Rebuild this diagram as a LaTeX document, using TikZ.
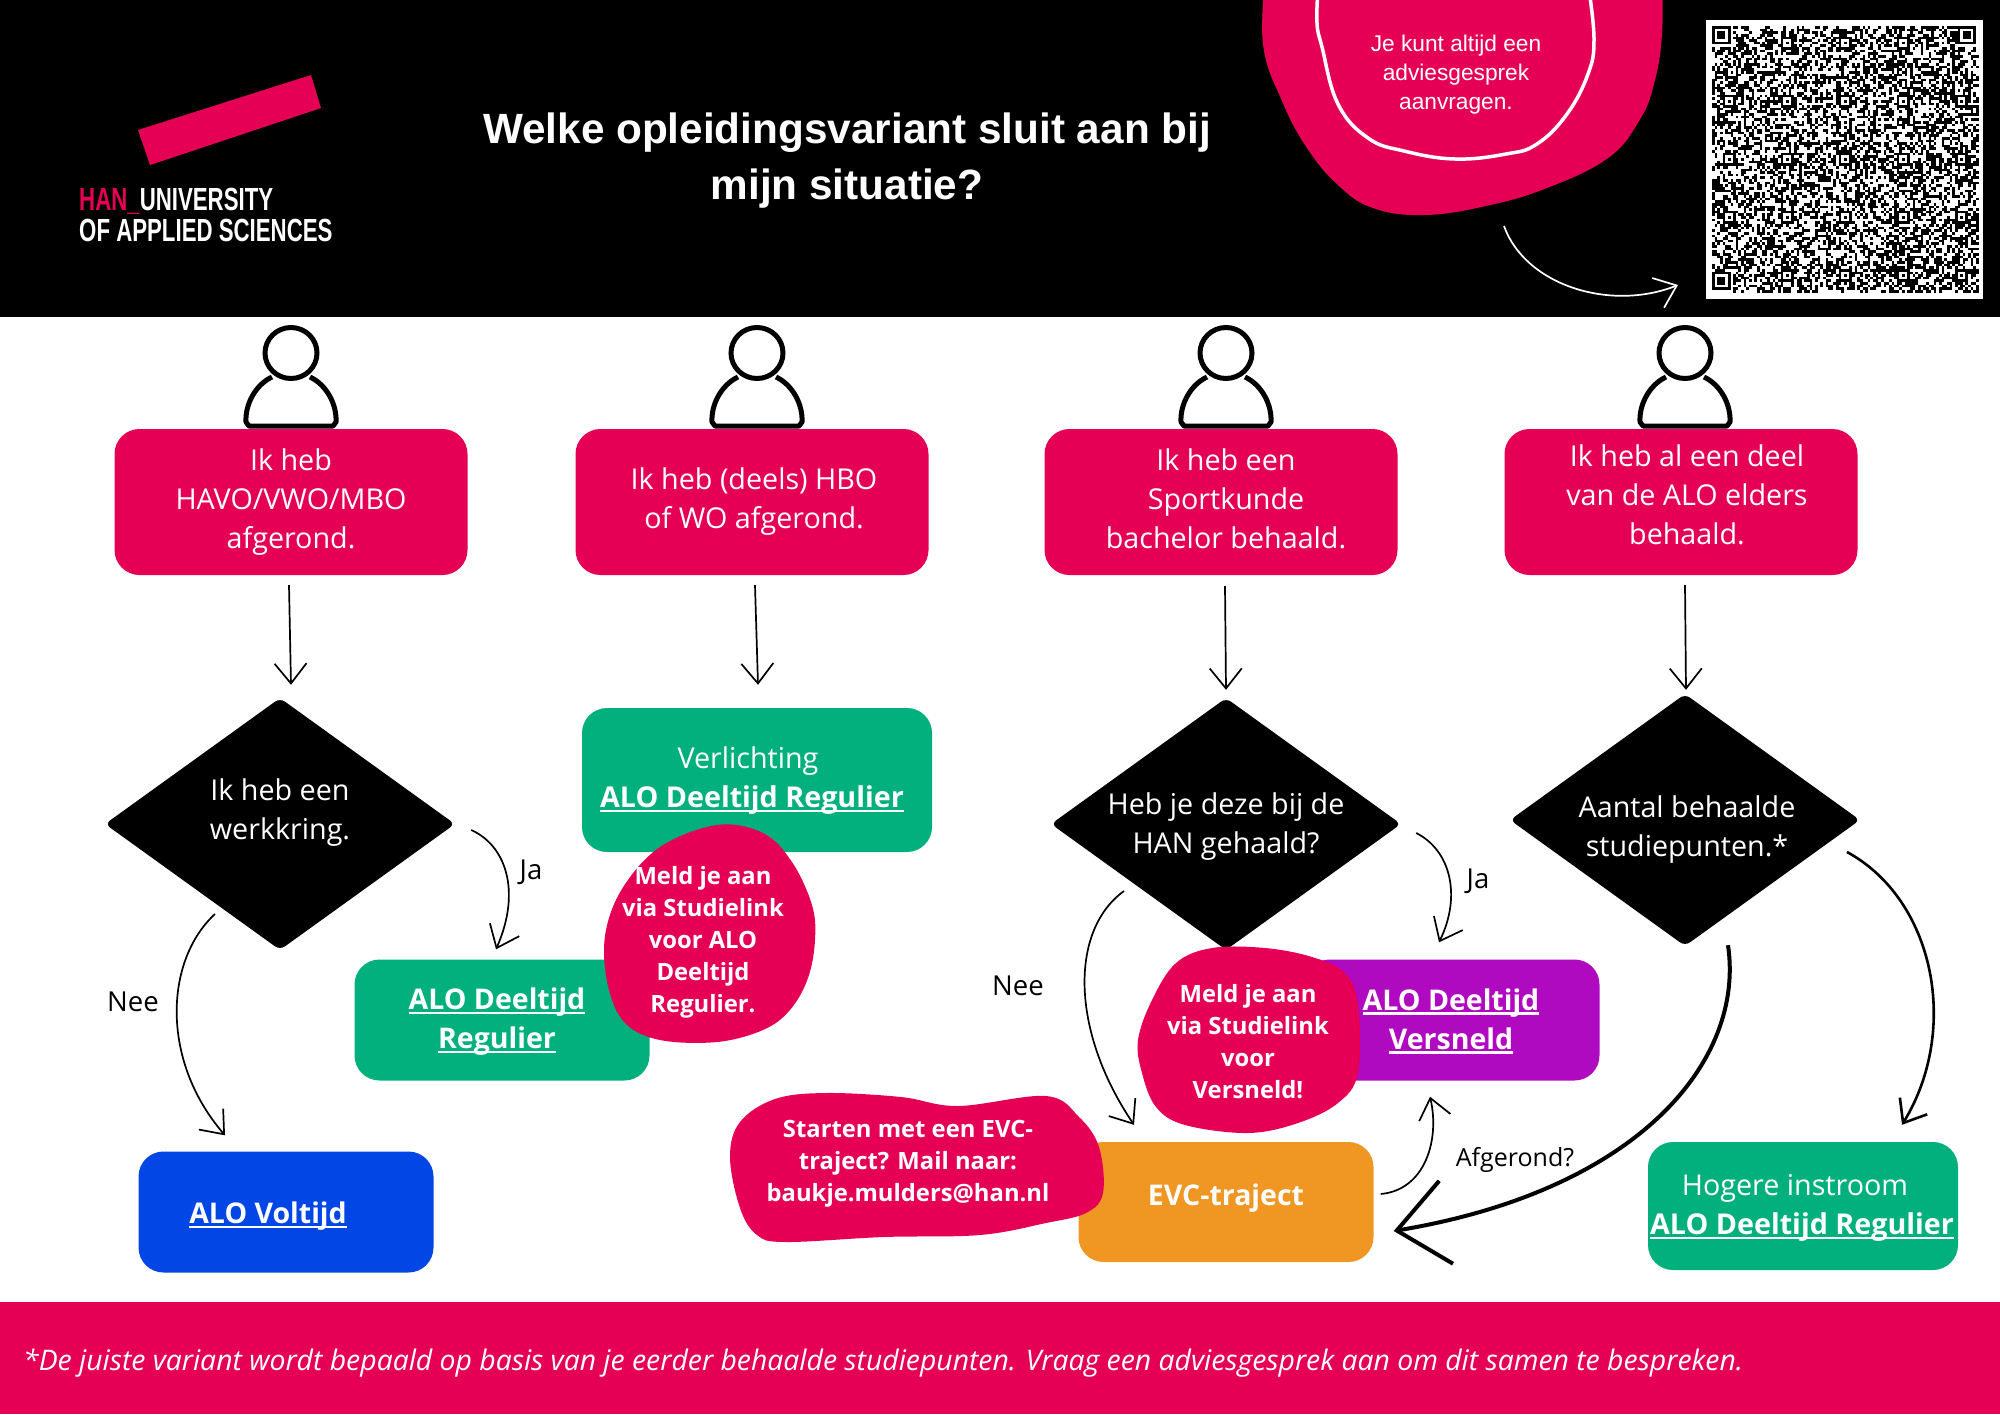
\documentclass[tikz,border=0pt]{standalone}
\usepackage{fontspec}
\setmainfont{Open Sans}
\newfontfamily\headfont{Liberation Sans}
\newfontfamily\logofont[FakeStretch=0.695]{Liberation Sans}
\usepackage{xcolor}
\usetikzlibrary{arrows.meta,shapes.geometric}
\definecolor{hanpink}{HTML}{E50056}
\definecolor{hangreen}{HTML}{02B07D}
\definecolor{hanblue}{HTML}{0346E6}
\definecolor{hanpurple}{HTML}{B00AC0}
\definecolor{hanorange}{HTML}{EF9623}
\newcommand{\alolink}[1]{\setbox0=\hbox{#1}\rlap{\rule[-4.5pt]{\wd0}{2.2pt}}\box0}
\tikzset{
  panel/.style={rectangle,rounded corners=25pt,minimum width=#1,inner sep=0pt},
  stepbox/.style={panel=353pt,minimum height=146pt,fill=hanpink},
  resultbox/.style={panel=295pt,minimum height=121pt},
  decision/.style={diamond,fill=black,inner sep=0pt,rounded corners=6pt,minimum width=350pt,minimum height=252pt,aspect=1.384},
  txt/.style={align=center,text=white,font=\fontsize{28.7}{39}\selectfont,inner sep=0pt},
  txtbold/.style={txt,font=\fontsize{28.5}{39}\selectfont\bfseries},
  blobtxt/.style={txt,font=\fontsize{23.8}{32}\selectfont\bfseries},
  flowlabel/.style={inner sep=0pt,font=\fontsize{27.5}{33}\selectfont},
  blob/.style={fill=hanpink,smooth cycle,tension=0.6},
  flow/.style={line width=1.7pt,-{Straight Barb[length=20pt,width=32pt]}},
  flowthick/.style={line width=4pt,-{Straight Barb[length=50pt,width=84pt]}},
  person/.pic={
    \draw[line width=5pt,fill=white,line join=round] (-19,377) .. controls (-36,385) and (-46,405) .. (-45,422) -- (-42,426) -- (42,426) -- (45,422) .. controls (46,405) and (36,385) .. (19,377);
    \draw[line width=5pt,fill=white] (0,353) ellipse (26 and 25.5);
  }
}
\begin{document}
\begin{tikzpicture}[x=1pt,y=-1pt]
\useasboundingbox (0,0) rectangle (2000,1414);
% header
\fill[black] (0,0) rectangle (2000,317);
\fill[hanpink] (138,130) -- (311,75) -- (321,108) -- (150,165) -- cycle;
\node[anchor=base west,inner sep=0pt,text=white,font=\logofont\bfseries\fontsize{32}{32}\selectfont] (logohan) at (79,210) {\textcolor{hanpink}{HAN\_}UNIVERSITY};
\node[anchor=base west,inner sep=0pt,text=white,font=\logofont\bfseries\fontsize{32}{32}\selectfont] (logosub) at (79,241) {OF APPLIED SCIENCES};
\node[align=center,inner sep=0pt,text=white,font=\headfont\bfseries\fontsize{42.3}{56}\selectfont] (title) at (847,161) {Welke opleidingsvariant sluit aan bij\\mijn situatie?};
% call-out
\fill[hanpink] plot[smooth,tension=0.7] coordinates {(1266,-30) (1263,44) (1282,101) (1307,148) (1338,185) (1373,208) (1424,215) (1486,206) (1547,188) (1608,158) (1639,121) (1654,84) (1662,34) (1662,-30)} -- cycle;
\draw[white,line width=3.5pt] plot[smooth,tension=0.7] coordinates {(1318,-10) (1317,23) (1322,47) (1338,104) (1368,138) (1404,151) (1455,159) (1506,154) (1537,144) (1567,114) (1588,74) (1594,40) (1589,-10)};
\node[txt,font=\headfont\fontsize{22.7}{29}\selectfont] (advies) at (1456,75) {Je kunt altijd een\\adviesgesprek\\aanvragen.};
\coordinate (adviesfrom) at (1504,226);
\coordinate (qrto) at (1678,285);
\draw[flow,white] (adviesfrom) .. controls (1525,285) and (1610,312) .. (qrto);
% qr code
\fill[white] (1706,20) rectangle (1983,299);
\pgfmathsetseed{2718}
\def\qrs{2.64}
\foreach \r in {0,...,100} {
  \foreach \c in {0,...,100} {
    \pgfmathrandominteger{\qrbit}{0}{1}
    \ifnum\qrbit=1
      \fill[black] ({1712+\c*\qrs},{26+\r*\qrs}) rectangle +(\qrs,\qrs);
    \fi
  }
}
\foreach \c/\r in {0/0,93/0,0/93} {
  \fill[white] ({1712+\c*\qrs},{26+\r*\qrs}) rectangle +({8*\qrs},{8*\qrs});
  \fill[black] ({1712+\c*\qrs},{26+\r*\qrs}) rectangle +({7*\qrs},{7*\qrs});
  \fill[white] ({1712+(\c+1)*\qrs},{26+(\r+1)*\qrs}) rectangle +({5*\qrs},{5*\qrs});
  \fill[black] ({1712+(\c+2)*\qrs},{26+(\r+2)*\qrs}) rectangle +({3*\qrs},{3*\qrs});
}
\foreach \c/\r in {26/4,48/4,70/4,4/26,26/26,48/26,70/26,92/26,4/48,26/48,48/48,70/48,92/48,4/70,26/70,48/70,70/70,92/70,26/92,48/92,70/92,92/92} {
  \fill[black] ({1712+\c*\qrs},{26+\r*\qrs}) rectangle +({5*\qrs},{5*\qrs});
  \fill[white] ({1712+(\c+1)*\qrs},{26+(\r+1)*\qrs}) rectangle +({3*\qrs},{3*\qrs});
  \fill[black] ({1712+(\c+2)*\qrs},{26+(\r+2)*\qrs}) rectangle +(\qrs,\qrs);
}
% people
\foreach \x in {291,757,1226,1685} {
  \pic at (\x,0) {person};
}
% starting points
\node[stepbox] (havo) at (291,502) {};
\node[stepbox] (hbo) at (752,502) {};
\node[stepbox] (sport) at (1221,502) {};
\node[stepbox] (alo) at (1681,502) {};
\node[txt] (havotxt) at (291,502) {Ik heb\\HAVO/VWO/MBO\\afgerond.};
\node[txt] (hbotxt) at (754,502) {Ik heb (deels) HBO\\of WO afgerond.};
\node[txt] (sporttxt) at (1226,499) {Ik heb een\\Sportkunde\\bachelor behaald.};
\node[txt] (alotxt) at (1687,495) {Ik heb al een deel\\van de ALO elders\\behaald.};
% decisions
\node[decision] (werk) at (280,824) {};
\node[decision] (han) at (1226,824) {};
\node[decision] (punten) at (1685,820) {};
\node[txt] (werktxt) at (280,813) {Ik heb een\\werkkring.};
\node[txt] (hantxt) at (1226,827) {Heb je deze bij de\\HAN gehaald?};
\node[txt] (puntentxt) at (1687,830) {Aantal behaalde\\studiepunten.*};
% results
\node[panel=350pt,minimum height=144pt,fill=hangreen] (verl) at (757,780) {};
\node[resultbox,fill=hangreen] (regulier) at (502,1020) {};
\node[resultbox,fill=hanblue] (voltijd) at (286,1212) {};
\node[resultbox,fill=hanpurple] (versneld) at (1452,1020) {};
\node[resultbox,fill=hanorange,minimum height=120pt] (evc) at (1226,1202) {};
\node[panel=310pt,minimum height=128pt,fill=hangreen] (instroom) at (1803,1206) {};
% call-outs
\fill[hanpink] plot[blob] coordinates {(717,825) (763,833) (792,862) (812,905) (815,940) (808,978) (790,1010) (763,1030) (717,1042) (660,1040) (625,1023) (608,986) (605,936) (622,889) (660,847)};
\fill[hanpink] plot[blob] coordinates {(1212,948) (1265,948) (1312,957) (1345,973) (1358,1005) (1358,1073) (1338,1103) (1298,1123) (1248,1133) (1185,1125) (1156,1107) (1142,1073) (1138,1040) (1152,1000) (1176,963)};
\fill[hanpink] plot[blob] coordinates {(730,1157) (740,1122) (775,1099) (826,1093) (901,1097) (958,1106) (1046,1096) (1079,1117) (1099,1147) (1103,1193) (1086,1213) (1046,1223) (980,1235) (884,1237) (786,1242) (757,1235) (740,1208)};
\node[txt] (verltxt) at (752,781) {\hspace*{-8pt}Verlichting\\\textbf{\alolink{ALO Deeltijd Regulier}}};
\node[txtbold] (reguliertxt) at (497,1022) {\alolink{ALO Deeltijd}\\\alolink{Regulier}};
\node[txtbold] (voltijdtxt) at (268,1216) {\alolink{ALO Voltijd}};
\node[txtbold] (versneldtxt) at (1451,1021) {\alolink{ALO Deeltijd}\\\alolink{Versneld}};
\node[txtbold] (evctxt) at (1226,1198) {EVC-traject};
\node[txt] (instroomtxt) at (1802,1208) {\hspace*{-14pt}Hogere instroom\\\textbf{\alolink{ALO Deeltijd Regulier}}};
\node[blobtxt] (meld) at (703,942) {Meld je aan\\via Studielink\\voor ALO\\Deeltijd\\Regulier.};
\node[blobtxt] (meldv) at (1248,1042) {Meld je aan\\via Studielink\\voor\\Versneld!};
\node[blobtxt] (start) at (908,1164) {Starten met een EVC-\\traject? Mail naar:\\baukje.mulders@han.nl};
% arrows
\draw[flow] ([shift={(-2,10)}]havo.south) -- ([shift={(11,-13)}]werk.north);
\draw[flow] ([shift={(3,10)}]hbo.south) -- ([shift={(1,-23)}]verl.north);
\draw[flow] ([shift={(4,11)}]sport.south) -- ([shift={(0,-8)}]han.north);
\draw[flow] ([shift={(4,10)}]alo.south) -- ([shift={(1,-4)}]punten.north);
\draw[flow] ([shift={(16,6)}]werk.east) .. controls (505,845) and (522,890) .. ([shift={(-6,-10)}]regulier.north);
\draw[flow] ([shift={(-65,90)}]werk.center) .. controls (165,960) and (160,1060) .. ([shift={(-61,-16)}]voltijd.north);
\draw[flow] ([shift={(15,9)}]han.east) .. controls (1450,850) and (1462,895) .. ([shift={(-13,-17)}]versneld.north);
\draw[flow] ([shift={(-102,67)}]han.center) .. controls (1070,930) and (1070,1030) .. ([shift={(-92,-17)}]evc.north);
\draw[flow] ([shift={(7,-8)}]evc.east) .. controls (1425,1190) and (1440,1140) .. ([shift={(-22,16)}]versneld.south);
\draw[flowthick] ([shift={(43,-1)}]punten.south) .. controls (1745,1060) and (1640,1190) .. ([shift={(20,29)}]evc.east);
\draw[flow,line width=2.6pt] ([shift={(162,32)}]punten.center) .. controls (1935,900) and (1960,1030) .. ([shift={(99,-17)}]instroom.north);
\node[flowlabel] (ja1) at (531,872) {Ja};
\node[flowlabel] (nee1) at (133,1002) {Nee};
\node[flowlabel] (ja2) at (1478,881) {Ja};
\node[flowlabel] (nee2) at (1018,986) {Nee};
\node[flowlabel,font=\fontsize{25}{30}\selectfont] (afgerond) at (1515,1160) {Afgerond?};
% footer
\fill[hanpink] (0,1302) rectangle (2000,1414);
\node[anchor=west,inner sep=0pt,text=white,font=\itshape\fontsize{28.35}{36}\selectfont] (voetnoot) at (23,1363) {*De juiste variant wordt bepaald op basis van je eerder behaalde studiepunten. Vraag een adviesgesprek aan om dit samen te bespreken.};
\end{tikzpicture}
\end{document}
